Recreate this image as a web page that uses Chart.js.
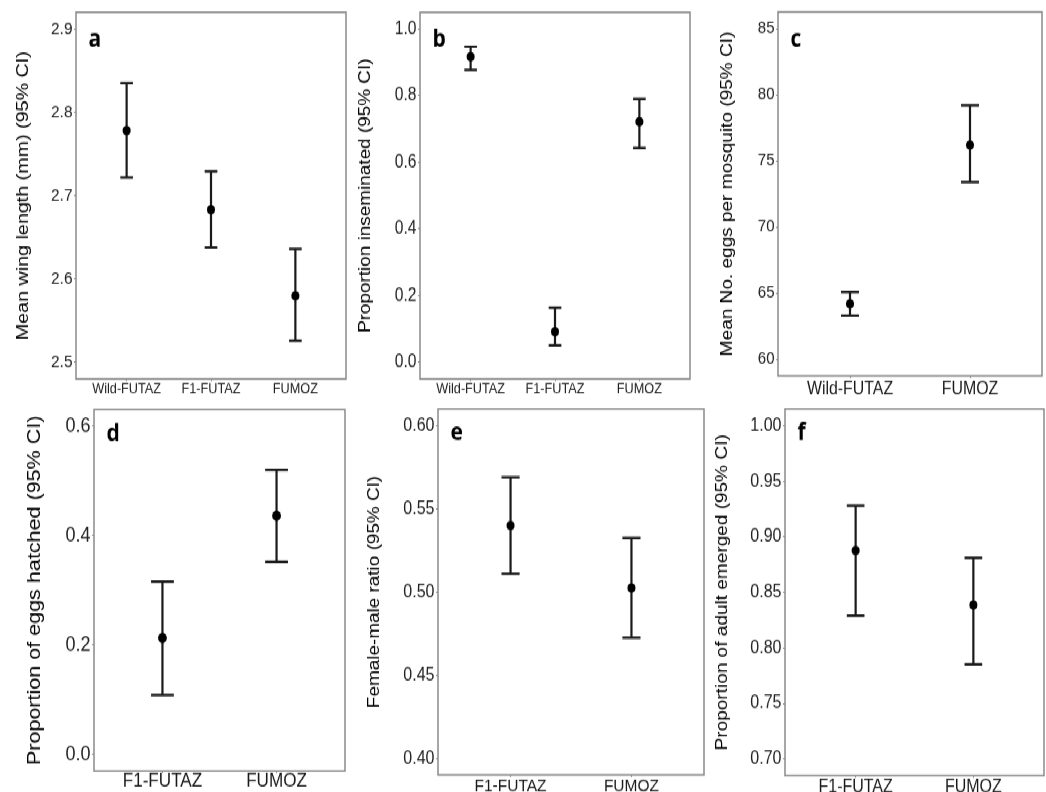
<!DOCTYPE html>
<html>
<head>
<meta charset="utf-8">
<script src="https://cdn.jsdelivr.net/npm/chart.js"></script>
<style>
html, body { margin: 0; padding: 0; background: #fff; overflow: hidden; width: 1046px; height: 792px; }
/* the figure is laid out short and stretched to the page height */
#wrap { position: relative; width: 1046px; height: 696px; transform: scaleY(1.14); transform-origin: 0 0; }
#wrap canvas { position: absolute; }
</style>
</head>
<body>
<div id="wrap"></div>
<script>
// (a) wing length
const wingGroups = ["Wild-FUTAZ", "F1-FUTAZ", "FUMOZ"];
const wingMean = [2.778, 2.683, 2.580];
const wingLow = [2.722, 2.638, 2.526];
const wingHigh = [2.835, 2.729, 2.636];
const wingTicks = [2.5, 2.6, 2.7, 2.8, 2.9];

// (b) insemination
const insemGroups = ["Wild-FUTAZ", "F1-FUTAZ", "FUMOZ"];
const insemMean = [0.917, 0.092, 0.722];
const insemLow = [0.877, 0.051, 0.643];
const insemHigh = [0.947, 0.164, 0.790];
const insemTicks = [0.0, 0.2, 0.4, 0.6, 0.8, 1.0];

// (c) eggs per mosquito
const eggGroups = ["Wild-FUTAZ", "FUMOZ"];
const eggMean = [64.2, 76.2];
const eggLow = [63.3, 73.4];
const eggHigh = [65.1, 79.2];
const eggTicks = [60, 65, 70, 75, 80, 85];

// (d) hatching
const hatchGroups = ["F1-FUTAZ", "FUMOZ"];
const hatchMean = [0.213, 0.436];
const hatchLow = [0.109, 0.352];
const hatchHigh = [0.316, 0.520];
const hatchTicks = [0.0, 0.2, 0.4, 0.6];

// (e) sex ratio
const ratioGroups = ["F1-FUTAZ", "FUMOZ"];
const ratioMean = [0.540, 0.5025];
const ratioLow = [0.511, 0.4725];
const ratioHigh = [0.569, 0.5325];
const ratioTicks = [0.40, 0.45, 0.50, 0.55, 0.60];

// (f) adult emergence
const emergeGroups = ["F1-FUTAZ", "FUMOZ"];
const emergeMean = [0.8876, 0.8385];
const emergeLow = [0.829, 0.785];
const emergeHigh = [0.928, 0.881];
const emergeTicks = [0.70, 0.75, 0.80, 0.85, 0.90, 0.95, 1.00];

Chart.defaults.font.family = "'Liberation Sans', Arial, sans-serif";
Chart.defaults.color = "#222";

const FRAME = "#8a8a8a";
const INK = "#1a1a1a";

const panels = [
  { letter: "a", groups: wingGroups, mean: wingMean, low: wingLow, high: wingHigh, ticks: wingTicks, dec: 1,
    title: "Mean wing length (mm) (95% CI)", titleSize: 17.3, titlePad: 12.6, tickSize: 15.5, xSize: 12.7, xPad: -1,
    cap: 0.15, r: 4, letterY: 30,
    box: { left: 0, top: 0, w: 350, h: 347, axisW: 76, axisH: 14.5, padTop: 8, padRight: 4 } },
  { letter: "b", groups: insemGroups, mean: insemMean, low: insemLow, high: insemHigh, ticks: insemTicks, dec: 1,
    title: "Proportion inseminated (95% CI)", titleSize: 16.6, titlePad: 10.5, tickSize: 15.6, xSize: 12.7, xPad: -0.7,
    cap: 0.15, r: 4, letterY: 30,
    box: { left: 345, top: 0, w: 350, h: 347, axisW: 75, axisH: 14.5, padTop: 8, padRight: 5 } },
  { letter: "c", groups: eggGroups, mean: eggMean, low: eggLow, high: eggHigh, ticks: eggTicks, dec: 0,
    title: "Mean No. eggs per mosquito (95% CI)", titleSize: 16.7, titlePad: 17, tickSize: 15, xSize: 15.9, xPad: 0,
    cap: 0.15, r: 4, letterY: 30,
    box: { left: 700, top: 0, w: 346, h: 347, axisW: 78, axisH: 17.2, padTop: 8, padRight: 2 } },
  { letter: "d", groups: hatchGroups, mean: hatchMean, low: hatchLow, high: hatchHigh, ticks: hatchTicks, dec: 1,
    title: "Proportion of eggs hatched (95% CI)", titleSize: 18.9, titlePad: 23.6, tickSize: 18, xSize: 17.1, xPad: -3,
    cap: 0.2, r: 4.4, letterY: 27.5,
    box: { left: 0, top: 347, w: 350, h: 349, axisW: 94, axisH: 19.7, padTop: 11.8, padRight: 5 } },
  { letter: "e", groups: ratioGroups, mean: ratioMean, low: ratioLow, high: ratioHigh, ticks: ratioTicks, dec: 2,
    title: "Female-male ratio (95% CI)", titleSize: 16.6, titlePad: 14, tickSize: 16, xSize: 15.5, xPad: -1.6,
    cap: 0.15, r: 4, letterY: 27.5,
    box: { left: 350, top: 347, w: 358, h: 349, axisW: 88, axisH: 16.2, padTop: 11.8, padRight: 4 } },
  { letter: "f", groups: emergeGroups, mean: emergeMean, low: emergeLow, high: emergeHigh, ticks: emergeTicks, dec: 2,
    title: "Proportion of adult emerged (95% CI)", titleSize: 16.7, titlePad: 4, tickSize: 16, xSize: 16, xPad: -1.6,
    cap: 0.15, r: 4, letterY: 27.5,
    box: { left: 708, top: 347, w: 340, h: 349, axisW: 77, axisH: 15.6, padTop: 11.8, padRight: 0 } }
];

// CI whiskers drawn under the points, frame and panel letter on top
const errorBars = {
  id: "errorBars",
  beforeDatasetsDraw(chart, args, opts) {
    const { ctx, scales: { x, y } } = chart;
    ctx.save();
    ctx.strokeStyle = INK;
    ctx.lineWidth = 2.2;
    opts.low.forEach((lo, i) => {
      const xc = x.getPixelForValue(i + 1);
      const x0 = x.getPixelForValue(i + 1 - opts.cap / 2);
      const x1 = x.getPixelForValue(i + 1 + opts.cap / 2);
      const yl = y.getPixelForValue(lo);
      const yh = y.getPixelForValue(opts.high[i]);
      ctx.beginPath();
      ctx.moveTo(xc, yl); ctx.lineTo(xc, yh);
      ctx.moveTo(x0, yl); ctx.lineTo(x1, yl);
      ctx.moveTo(x0, yh); ctx.lineTo(x1, yh);
      ctx.stroke();
    });
    ctx.restore();
  },
  afterDraw(chart, args, opts) {
    const { ctx, chartArea: a } = chart;
    ctx.save();
    ctx.strokeStyle = FRAME;
    ctx.lineWidth = 1.5;
    ctx.strokeRect(a.left, a.top, a.right - a.left, a.bottom - a.top);
    ctx.fillStyle = "#000";
    ctx.font = "bold 21px 'Open Sans', sans-serif";
    ctx.textBaseline = "alphabetic";
    ctx.fillText(opts.letter, a.left + 12.5, a.top + opts.letterY);
    ctx.restore();
  }
};

const wrap = document.getElementById("wrap");

panels.forEach(p => {
  const b = p.box;
  const cv = document.createElement("canvas");
  cv.width = b.w; cv.height = b.h;
  cv.style.left = b.left + "px";
  cv.style.top = b.top + "px";
  wrap.appendChild(cv);

  const t0 = p.ticks[0], t1 = p.ticks[p.ticks.length - 1];
  const pad = (t1 - t0) * 0.05;

  new Chart(cv, {
    type: "scatter",
    data: {
      datasets: [{
        data: p.mean.map((v, i) => ({ x: i + 1, y: v })),
        pointRadius: p.r,
        pointBackgroundColor: "#000",
        pointBorderWidth: 0
      }]
    },
    options: {
      responsive: false,
      animation: false,
      devicePixelRatio: 1,
      layout: { padding: { top: b.padTop, right: b.padRight, left: 0, bottom: 0 } },
      plugins: {
        legend: { display: false },
        tooltip: { enabled: false },
        errorBars: { low: p.low, high: p.high, cap: p.cap, letter: p.letter, letterY: p.letterY }
      },
      scales: {
        x: {
          type: "linear",
          min: 0.4,
          max: p.groups.length + 0.6,
          afterBuildTicks: s => { s.ticks = p.groups.map((g, i) => ({ value: i + 1 })); },
          afterFit: s => { s.height = b.axisH; },
          ticks: {
            callback: (v, i) => p.groups[i],
            font: { size: p.xSize },
            color: "#1a1a1a",
            padding: p.xPad,
            maxRotation: 0,
            autoSkip: false
          },
          grid: { drawOnChartArea: false, drawTicks: true, tickLength: 2, color: FRAME, tickColor: FRAME },
          border: { display: false }
        },
        y: {
          min: t0 - pad,
          max: t1 + pad,
          afterBuildTicks: s => { s.ticks = p.ticks.map(v => ({ value: v })); },
          afterFit: s => { s.width = b.axisW; },
          ticks: {
            callback: v => v.toFixed(p.dec),
            font: { size: p.tickSize },
            color: "#222",
            padding: 1.5
          },
          grid: { drawOnChartArea: false, drawTicks: true, tickLength: 2, color: FRAME, tickColor: FRAME },
          border: { display: false },
          title: {
            display: true,
            text: p.title,
            color: "#000",
            font: { size: p.titleSize },
            padding: { top: p.titlePad, bottom: 0 }
          }
        }
      }
    },
    plugins: [errorBars]
  });
});
</script>
</body>
</html>
